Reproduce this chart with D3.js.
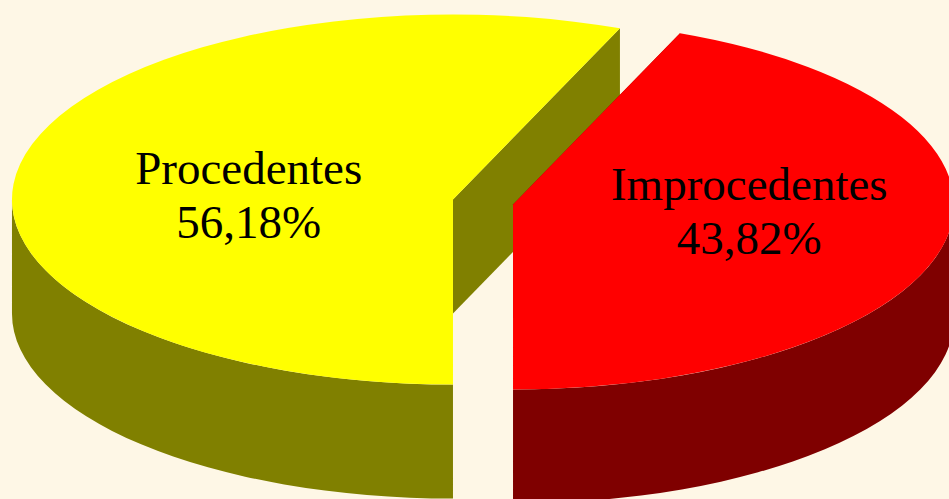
<!DOCTYPE html>
<html>
<head>
<meta charset="utf-8">
<script src="https://cdn.jsdelivr.net/npm/d3@7"></script>
<style>
  html, body { margin: 0; padding: 0; background: #FEF7E6; overflow: hidden; }
  svg { display: block; }
</style>
</head>
<body>
<svg id="chart" width="949" height="499"></svg>
<script>
// ---- data ----
const categories = ["Procedentes", "Improcedentes"];
const values = [56.18, 43.82];
const valueLabels = ["56,18%", "43,82%"];
const topColors = ["#FFFF00", "#FF0000"];
const sideColors = ["#808000", "#7F0000"];

// ---- layout ----
const W = 949, H = 499;
const cx0 = 483, cy0 = 202;      // pie centre (before explode)
const rx = 441, ry = 185;        // ellipse radii of the top face
const depth = 114;               // thickness
const explode = 30.6;
const labelPos = [0.472, 0.546];
const labelDy = [-1.5, 9.5];

const svg = d3.select("#chart");
svg.append("rect").attr("width", W).attr("height", H).attr("fill", "#FEF7E6");

const pie = d3.pie().sort(null).value(d => d)
  .startAngle(Math.PI).endAngle(3 * Math.PI);
const arcs = pie(values).map((a, i) => {
  const mid = (a.startAngle + a.endAngle) / 2;
  const cx = cx0 + explode * Math.sin(mid);
  const cy = cy0 - explode * Math.cos(mid) * ry / rx;
  return { ...a, i, mid, cx, cy };
});

const pt = (c, t, dy = 0) => [c.cx + rx * Math.sin(t), c.cy - ry * Math.cos(t) + dy];

function topPath(c) {
  const p0 = pt(c, c.startAngle), p1 = pt(c, c.endAngle);
  const large = (c.endAngle - c.startAngle) > Math.PI ? 1 : 0;
  return `M${c.cx},${c.cy}L${p0[0]},${p0[1]}A${rx},${ry} 0 ${large} 1 ${p1[0]},${p1[1]}Z`;
}

function sidePath(c, a0, a1) {
  const p0 = pt(c, a0), p1 = pt(c, a1);
  const q1 = pt(c, a1, depth), q0 = pt(c, a0, depth);
  return `M${p0[0]},${p0[1]}A${rx},${ry} 0 0 1 ${p1[0]},${p1[1]}` +
         `L${q1[0]},${q1[1]}A${rx},${ry} 0 0 0 ${q0[0]},${q0[1]}Z`;
}

function facePath(c, t) {
  const p = pt(c, t), q = pt(c, t, depth);
  return `M${c.cx},${c.cy}L${p[0]},${p[1]}L${q[0]},${q[1]}L${c.cx},${c.cy + depth}Z`;
}

const g = svg.append("g");

// inner faces (radial walls)
arcs.forEach(c => {
  [c.startAngle, c.endAngle].forEach(t => {
    g.append("path").attr("d", facePath(c, t)).attr("fill", sideColors[c.i]);
  });
});

// outer front walls (visible between 90deg and 270deg, mod 360)
arcs.forEach(c => {
  for (let k = -1; k <= 1; k++) {
    const lo = Math.PI / 2 + k * 2 * Math.PI, hi = 3 * Math.PI / 2 + k * 2 * Math.PI;
    const a0 = Math.max(c.startAngle, lo), a1 = Math.min(c.endAngle, hi);
    if (a1 > a0) {
      g.append("path").attr("d", sidePath(c, a0, a1)).attr("fill", sideColors[c.i]);
    }
  }
});

// top faces
arcs.forEach(c => {
  g.append("path").attr("d", topPath(c)).attr("fill", topColors[c.i]);
});

// labels
arcs.forEach(c => {
  const lx = c.cx + labelPos[c.i] * rx * Math.sin(c.mid);
  const ly = c.cy + labelDy[c.i];
  const t = svg.append("text")
    .attr("text-anchor", "middle")
    .attr("font-family", "'Liberation Serif', 'Times New Roman', serif")
    .attr("font-size", 47)
    .attr("fill", "#000");
  t.append("tspan").attr("x", lx).attr("y", ly - 14).text(categories[c.i]);
  t.append("tspan").attr("x", lx).attr("y", ly + 40).text(valueLabels[c.i]);
});
</script>
</body>
</html>
